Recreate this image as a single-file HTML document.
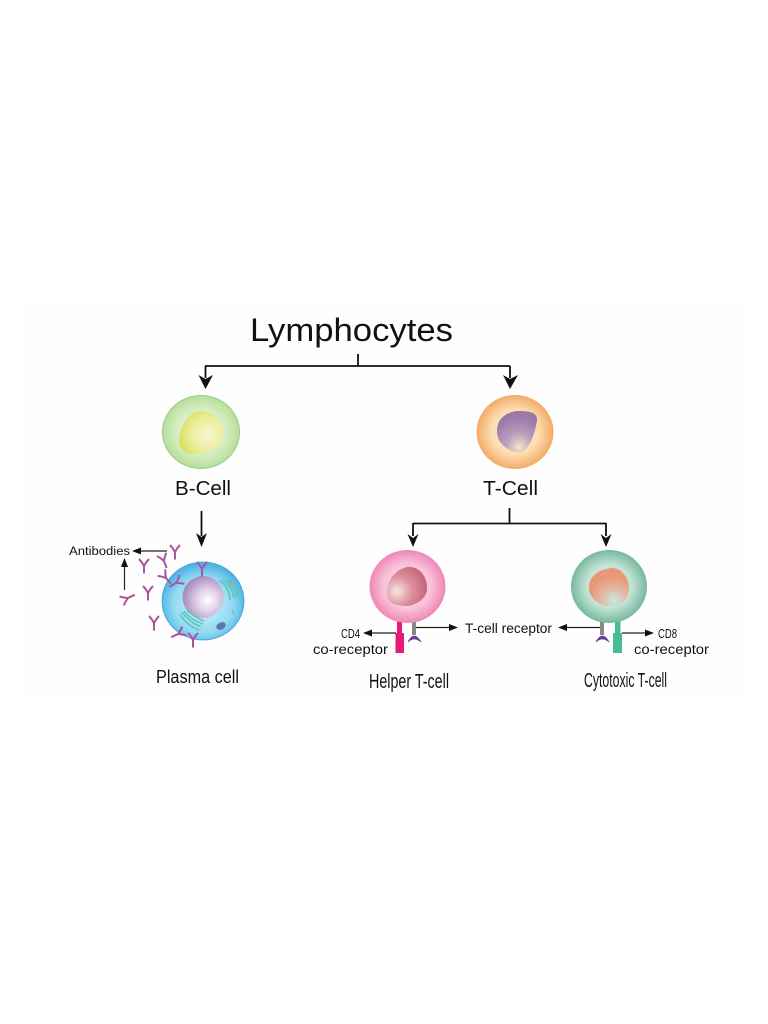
<!DOCTYPE html>
<html><head><meta charset="utf-8"><style>html,body{margin:0;padding:0;background:#fff}svg{display:block;filter:blur(.3px)}text{font-family:"Liberation Sans",sans-serif;fill:#111}</style></head><body>
<svg width="768" height="1024" viewBox="0 0 768 1024" xmlns="http://www.w3.org/2000/svg">
<defs>
<radialGradient id="bc" cx="50%" cy="50%" r="50%"><stop offset="0" stop-color="#f2f8e4"/><stop offset=".6" stop-color="#d9eec4"/><stop offset=".95" stop-color="#bbe0a0"/><stop offset="1" stop-color="#94c582"/></radialGradient>
<radialGradient id="bn" cx="65%" cy="55%" r="65%"><stop offset="0" stop-color="#f6f6d8"/><stop offset=".55" stop-color="#ecef9c"/><stop offset="1" stop-color="#d6e262"/></radialGradient>
<radialGradient id="tc" cx="50%" cy="50%" r="50%"><stop offset="0" stop-color="#fff3dc"/><stop offset=".62" stop-color="#fcdcae"/><stop offset="1" stop-color="#f3ab68"/></radialGradient>
<radialGradient id="tn" cx="55%" cy="88%" r="75%"><stop offset="0" stop-color="#f4e4cc"/><stop offset=".45" stop-color="#b9a0bd"/><stop offset="1" stop-color="#9a78a8"/></radialGradient>
<radialGradient id="pc" cx="50%" cy="55%" r="52%"><stop offset="0" stop-color="#d4f2fb"/><stop offset=".7" stop-color="#92daf3"/><stop offset="1" stop-color="#4fb4e4"/></radialGradient>
<radialGradient id="pn" cx="62%" cy="58%" r="60%"><stop offset="0" stop-color="#fff"/><stop offset=".45" stop-color="#e0d0e6"/><stop offset="1" stop-color="#a68cc0"/></radialGradient>
<radialGradient id="hc" cx="50%" cy="50%" r="50%"><stop offset="0" stop-color="#fde4ee"/><stop offset=".62" stop-color="#fac2da"/><stop offset="1" stop-color="#ee88b4"/></radialGradient>
<radialGradient id="hn" cx="25%" cy="62%" r="85%"><stop offset="0" stop-color="#f6e6e6"/><stop offset=".45" stop-color="#dc909c"/><stop offset="1" stop-color="#c25a70"/></radialGradient>
<radialGradient id="cc" cx="50%" cy="50%" r="50%"><stop offset="0" stop-color="#e8f6f0"/><stop offset=".6" stop-color="#c0e3d5"/><stop offset="1" stop-color="#78b89e"/></radialGradient>
<radialGradient id="cn" cx="62%" cy="85%" r="62%"><stop offset="0" stop-color="#c4ebe4"/><stop offset=".5" stop-color="#e4b8a4"/><stop offset="1" stop-color="#e89878"/></radialGradient>
<g id="ab" fill="none" stroke="#a8559c" stroke-width="2"><path d="M0 0V7.500M0 0Q-2 -4 -5 -7M0 0Q2 -4 5 -7"/></g>
</defs>

<rect x="20" y="305" width="725" height="395" fill="#fefefe"/>

<text x="250" y="341" font-size="32" textLength="203" lengthAdjust="spacingAndGlyphs">Lymphocytes</text>

<g fill="none" stroke="#111" stroke-width="1.800">
<path d="M358 354V366M205 366H510M205.500 366V378M510 366V378"/>
<path d="M201.500 511V536"/>
<path d="M509.500 508V523.500M413 523.500H606M413 523V536M606 523V536"/>
</g>
<g fill="#111">
<path d="M198.500 375L205.500 379L213 375L205.500 389Z"/>
<path d="M503 375L510 379L518 375L510 389Z"/>
<path d="M196 533L201.500 537L207 533L201.500 547Z"/>
<path d="M407.500 534L413 538L418.500 534L413 547Z"/>
<path d="M600.500 534L606 538L611.500 534L606 547Z"/>
</g>

<!-- B cell -->
<ellipse cx="201" cy="432" rx="39" ry="37" fill="url(#bc)"/>
<path d="M179 442C179 428 187 414 199 411C212 411 223 420 223 433C222 447 208 454 195 454C186 454 180 450 179 442Z" fill="url(#bn)"/>
<text x="175" y="495" font-size="20" textLength="56" lengthAdjust="spacingAndGlyphs">B-Cell</text>

<!-- T cell -->
<ellipse cx="515" cy="432" rx="38.500" ry="37" fill="url(#tc)"/>
<path d="M497 431C497 418 507 412 517 411C526 411 538 411 537 421C535 432 532 442 525 450C519 455 510 451 505 447C500 443 497 438 497 431Z" fill="url(#tn)"/>
<text x="483" y="495" font-size="20" textLength="55" lengthAdjust="spacingAndGlyphs">T-Cell</text>

<!-- Plasma cell -->
<ellipse cx="203" cy="601" rx="41" ry="39" fill="url(#pc)" stroke="#3f9fd0" stroke-width=".8"/>
<ellipse cx="203" cy="597" rx="20.500" ry="21" fill="url(#pn)"/>
<g fill="none" stroke="#5cc4b4" stroke-width="1.700" opacity=".9">
<path d="M220 581Q229 587 230 600M223 580Q232 586 234 598M226 579Q235 586 237 597M229 579Q237 585 239 594"/>
<path d="M180 614Q186 625 199 630M182 612Q189 622 201 627M184 611Q191 620 203 624M187 610Q194 617 204 621"/>
</g>
<ellipse cx="221" cy="626" rx="5" ry="3.500" fill="#5878a8" transform="rotate(-25 221 626)"/>
<path d="M230 580L233 587M232 609L234 615" stroke="#a8a878" stroke-width="1.500" opacity=".7"/>

<use href="#ab" x="175" y="552"/>
<use href="#ab" x="144" y="566"/>
<use href="#ab" x="164" y="561" transform="rotate(-20 164 561)"/>
<use href="#ab" x="166" y="578" transform="rotate(-40 166 578)"/>
<use href="#ab" x="176" y="583" transform="rotate(60 176 583)"/>
<use href="#ab" x="128" y="598" transform="rotate(-115 128 598)"/>
<use href="#ab" x="148" y="593"/>
<use href="#ab" x="154" y="623"/>
<use href="#ab" x="178" y="634" transform="rotate(65 178 634)"/>
<use href="#ab" x="193" y="640"/>
<use href="#ab" x="202" y="569"/>

<g fill="none" stroke="#222" stroke-width="1.200">
<path d="M137 551H167M124.500 590V564"/>
</g>
<path d="M132 551L141 547.500V554.500Z M124.500 558L121 567H128Z" fill="#111"/>
<text x="69" y="555" font-size="11.500" textLength="61" lengthAdjust="spacingAndGlyphs">Antibodies</text>
<text x="156" y="683" font-size="18.500" textLength="83" lengthAdjust="spacingAndGlyphs">Plasma cell</text>

<!-- Helper -->
<rect x="397" y="620" width="5" height="16" fill="#e8187c"/>
<rect x="395.500" y="633" width="8.500" height="20" fill="#e8187c"/>
<rect x="412" y="620" width="4" height="15" fill="#888"/>
<path d="M408 642Q414 630 421 642Q414 636 408 642Z" fill="#6a3c92" stroke="#6a3c92" stroke-width=".8"/>
<ellipse cx="407.500" cy="586.500" rx="38" ry="36.500" fill="url(#hc)"/>
<path d="M387 594C387 580 395 570 407 567C420 566 427 577 427 588C427 598 418 604 408 606C396 606 387 603 387 594Z" fill="url(#hn)"/>
<path d="M396 633H367M416 627.500H454" fill="none" stroke="#222" stroke-width="1.200"/>
<path d="M363 633L372 629.500V636.500Z M458 627.500L449 624V631Z" fill="#111"/>
<text x="341" y="638" font-size="13" textLength="19" lengthAdjust="spacingAndGlyphs">CD4</text>
<text x="313" y="654" font-size="13.500" textLength="75" lengthAdjust="spacingAndGlyphs">co-receptor</text>
<text x="369" y="688" font-size="20" textLength="80" lengthAdjust="spacingAndGlyphs">Helper T-cell</text>

<text x="465" y="633" font-size="13.500" textLength="87" lengthAdjust="spacingAndGlyphs">T-cell receptor</text>

<!-- Cytotoxic -->
<rect x="615" y="620" width="5.500" height="16" fill="#48bc98"/>
<rect x="613" y="633" width="9" height="20" fill="#48bc98"/>
<rect x="600" y="620" width="4" height="15" fill="#888"/>
<path d="M596 642Q602.500 630 609 642Q602.500 636 596 642Z" fill="#6a3c92" stroke="#6a3c92" stroke-width=".8"/>
<ellipse cx="609" cy="586.500" rx="38" ry="36.500" fill="url(#cc)"/>
<path d="M589 586C590 575 600 569 612 568C622 568 629 578 629 589C628 600 620 606 610 606C598 606 588 597 589 586Z" fill="url(#cn)"/>
<path d="M600 627.500H562M622 633H650" fill="none" stroke="#222" stroke-width="1.200"/>
<path d="M558 627.500L567 624V631Z M654 633L645 629.500V636.500Z" fill="#111"/>
<text x="658" y="638" font-size="13" textLength="19" lengthAdjust="spacingAndGlyphs">CD8</text>
<text x="634" y="654" font-size="13.500" textLength="75" lengthAdjust="spacingAndGlyphs">co-receptor</text>
<text x="584" y="687" font-size="20" textLength="83" lengthAdjust="spacingAndGlyphs">Cytotoxic T-cell</text>
</svg>
</body></html>
